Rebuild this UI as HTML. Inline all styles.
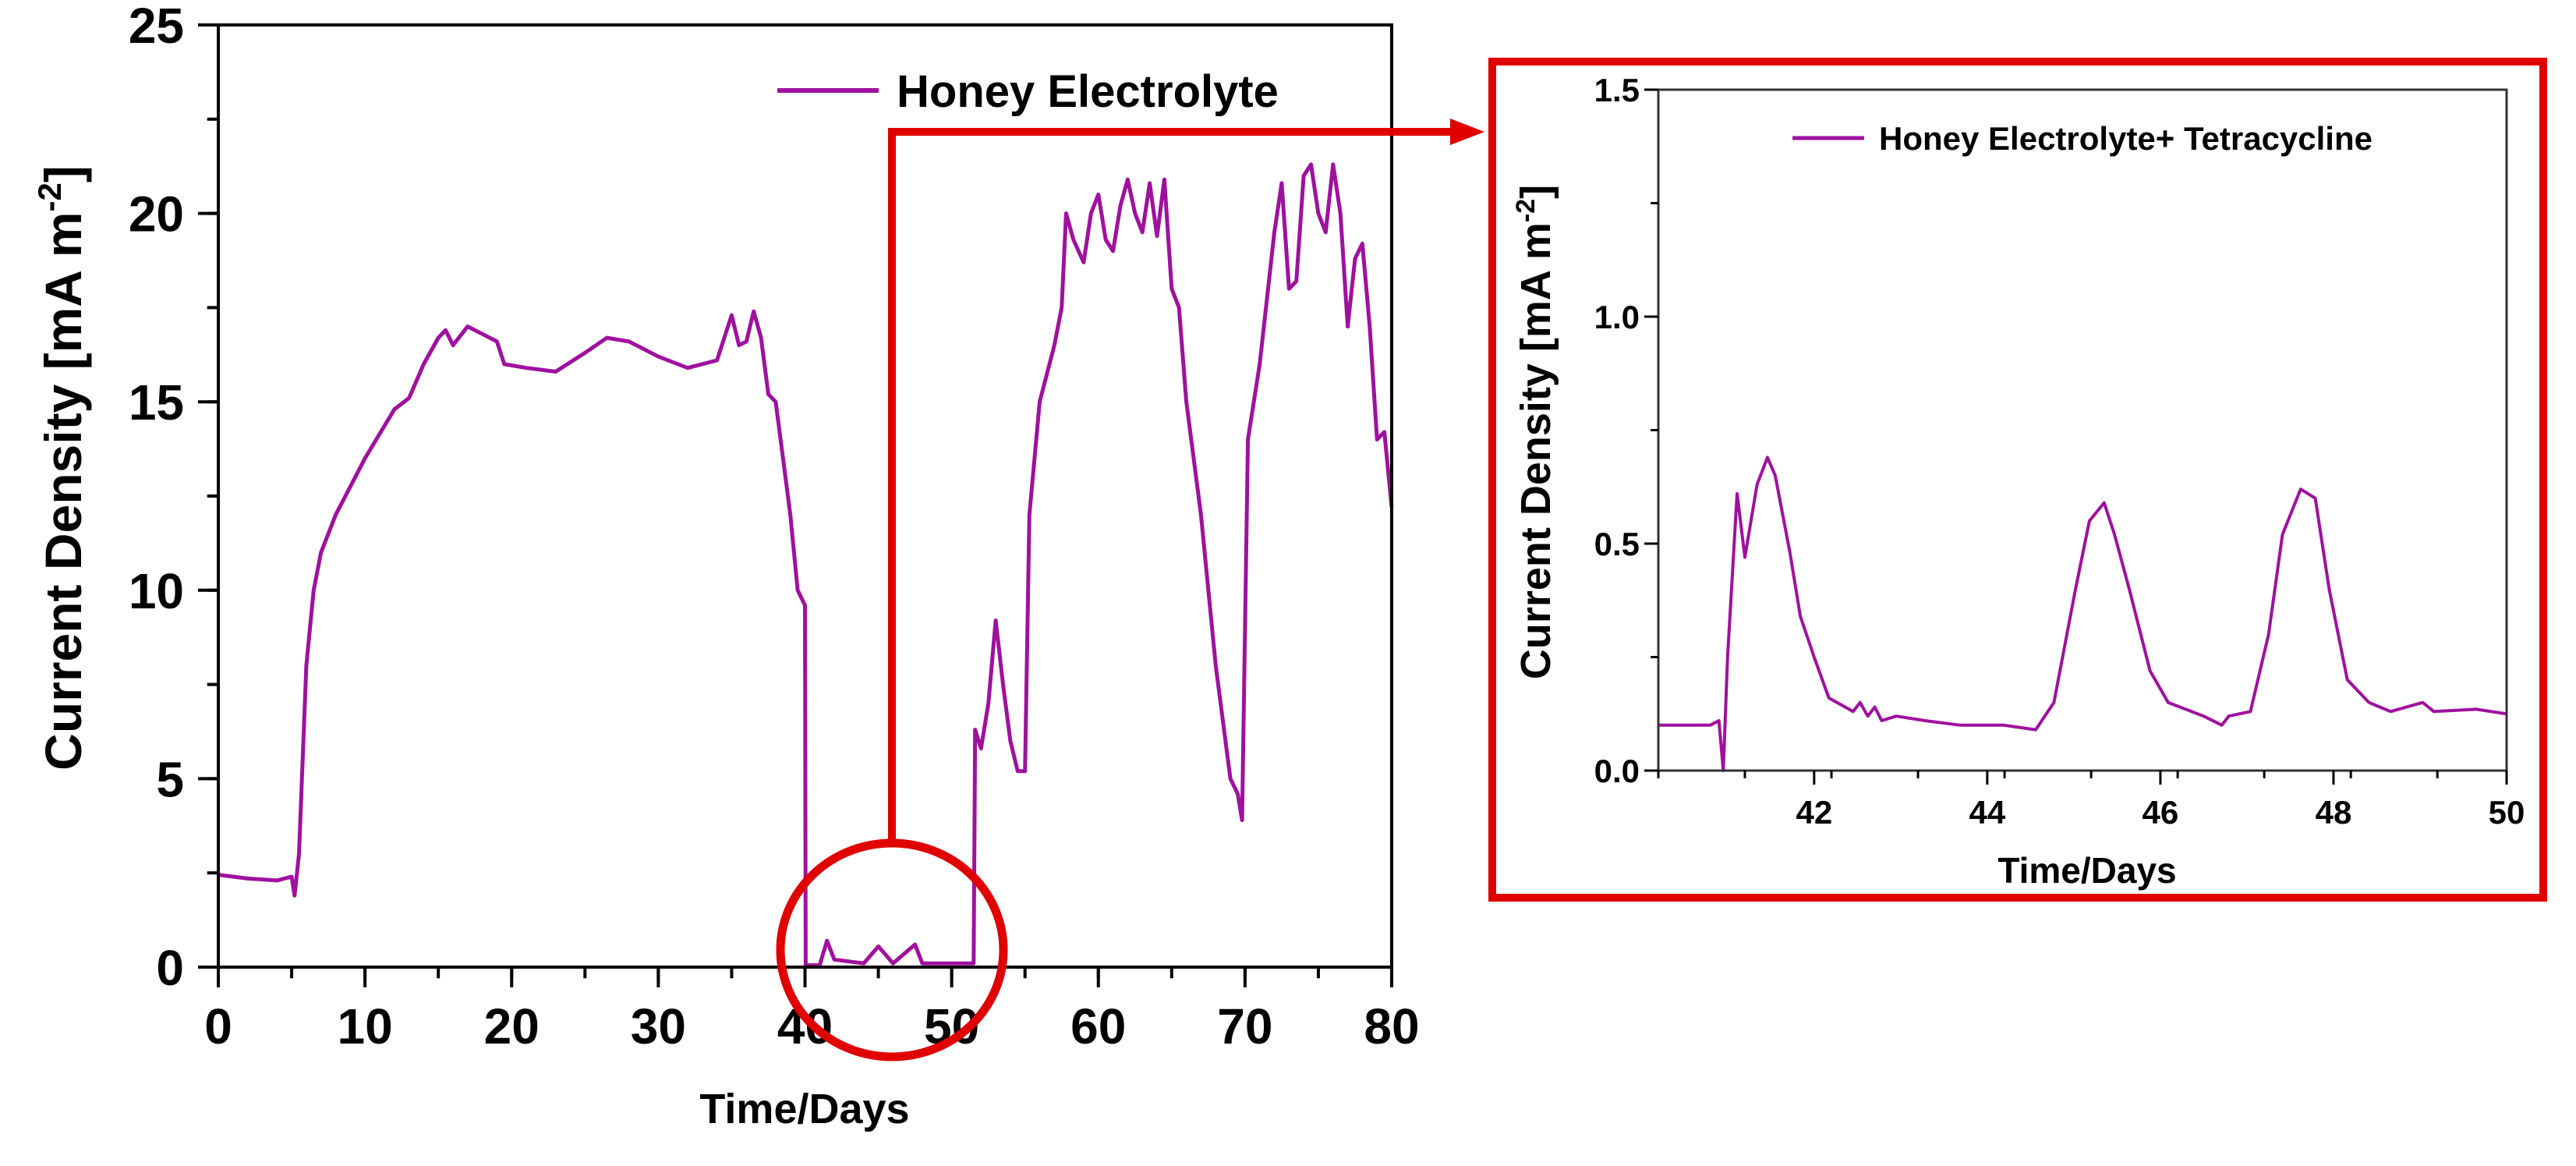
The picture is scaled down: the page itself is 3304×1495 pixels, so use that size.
<!DOCTYPE html>
<html><head><meta charset="utf-8"><style>
html,body{margin:0;padding:0;background:#fff;}
svg text{font-family:"Liberation Sans",Arial,sans-serif;font-weight:bold;fill:#000;}
</style></head><body>
<svg id="svg" width="3304" height="1490" viewBox="0 0 3304 1490" xmlns="http://www.w3.org/2000/svg">
<g id="main"></g>
<g id="inset"></g>
<g id="annot">
  <ellipse cx="1144" cy="1218" rx="143" ry="137" fill="none" stroke="#e00000" stroke-width="11"/>
  <polyline points="1144,1081 1144,169 1870,169" fill="none" stroke="#e00000" stroke-width="10"/>
  <polygon points="1860,152 1904,169 1860,186" fill="#e00000"/>
  <rect x="1914" y="79" width="1348" height="1072" fill="none" stroke="#e00000" stroke-width="10"/>
</g>
</svg>
<script>
// Main chart data
const mainX = [0,2,4,5,5.2,5.5,6,6.5,7,8,10,12,13,14,15,15.5,16,17,18,19,19.5,21,23,25,26.5,28,30,32,34,35,35.5,36,36.5,37,37.5,38,39,39.5,40,40.05,41,41.5,42,44,45,46,47.5,48,51.5,51.6,52,52.5,53,53.5,54,54.5,55,55.3,56,57,57.5,57.8,58.3,59,59.5,60,60.5,61,61.5,62,62.5,63,63.5,64,64.5,65,65.5,66,67,68,69,69.5,69.8,70.2,71,72,72.5,73,73.5,74,74.5,75,75.5,76,76.5,77,77.5,78,78.5,79,79.5,80];
const mainY = [2.45,2.35,2.3,2.4,1.9,3,8,10,11,12,13.5,14.8,15.1,16,16.7,16.9,16.5,17,16.8,16.6,16,15.9,15.8,16.3,16.7,16.6,16.2,15.9,16.1,17.3,16.5,16.6,17.4,16.7,15.2,15,12,10,9.6,0.05,0.05,0.7,0.2,0.1,0.55,0.1,0.6,0.1,0.1,6.3,5.8,7,9.2,7.5,6,5.2,5.2,12,15,16.5,17.5,20,19.3,18.7,20,20.5,19.3,19,20.2,20.9,20,19.5,20.8,19.4,20.9,18,17.5,15,12,8,5,4.6,3.9,14,16,19.5,20.8,18,18.2,21,21.3,20,19.5,21.3,20,17,18.8,19.2,17,14,14.2,12.2];
const mainXTicks = [0,10,20,30,40,50,60,70,80];
const mainYTicks = [0,5,10,15,20,25];
// Inset data
const insetX = [40.2,40.5,40.8,40.9,40.95,41.0,41.11,41.2,41.34,41.46,41.55,41.72,41.84,42,42.17,42.45,42.53,42.62,42.7,42.78,42.95,43.28,43.69,44.19,44.56,44.77,45.02,45.18,45.35,45.47,45.64,45.88,46.09,46.5,46.71,46.79,47.04,47.25,47.41,47.62,47.79,47.95,48.16,48.41,48.66,49.03,49.16,49.65,50];
const insetY = [0.1,0.1,0.1,0.11,0.0,0.25,0.61,0.47,0.63,0.69,0.65,0.48,0.34,0.25,0.16,0.13,0.15,0.12,0.14,0.11,0.12,0.11,0.1,0.1,0.09,0.15,0.4,0.55,0.59,0.52,0.4,0.22,0.15,0.12,0.1,0.12,0.13,0.3,0.52,0.62,0.6,0.4,0.2,0.15,0.13,0.15,0.13,0.135,0.125];
const insetXTicks = [42,44,46,48,50];
const insetYTicks = [0.0,0.5,1.0,1.5];

const NS='http://www.w3.org/2000/svg';
function mk(parent,tag,attrs,text){const e=document.createElementNS(NS,tag);for(const k in attrs)e.setAttribute(k,attrs[k]);if(text!==undefined)e.textContent=text;parent.appendChild(e);return e;}

function drawChart(g,cfg){
  const sx=v=>cfg.L+(v-cfg.x0)/(cfg.x1-cfg.x0)*(cfg.R-cfg.L);
  const sy=v=>cfg.B-(v-cfg.y0)/(cfg.y1-cfg.y0)*(cfg.B-cfg.T);
  const pts=cfg.xs.map((x,i)=>sx(x).toFixed(1)+','+sy(cfg.ys[i]).toFixed(1)).join(' ');
  const line=mk(g,'polyline',{points:pts,fill:'none',stroke:'#a0109f','stroke-width':cfg.lw,'stroke-linejoin':'round'});
  
  
  const fr=mk(g,'rect',{x:cfg.L,y:cfg.T,width:cfg.R-cfg.L,height:cfg.B-cfg.T,fill:'none',stroke:cfg.frameColor,'stroke-width':cfg.aw});
  
  
  for(let i=0;i<cfg.xTicks.length;i++){
    const v=cfg.xTicks[i];
    const t=mk(g,'line',{x1:sx(v),x2:sx(v),y1:cfg.B,y2:cfg.B+cfg.tl,stroke:'#000','stroke-width':cfg.tw});
    
    
    const lb=mk(g,'text',{x:sx(v),y:cfg.B+cfg.xlabOff,'text-anchor':'middle','font-size':cfg.tfs},cfg.xFmt(v));
    
    
  }
  for(let v=cfg.x0;v<=cfg.x1+1e-9;v+=cfg.xMinor){
    const t=mk(g,'line',{x1:sx(v),x2:sx(v),y1:cfg.B,y2:cfg.B+cfg.tl*0.55,stroke:'#000','stroke-width':cfg.tw});
    
    
  }
  for(let i=0;i<cfg.yTicks.length;i++){
    const v=cfg.yTicks[i];
    const t=mk(g,'line',{x1:cfg.L-cfg.tl,x2:cfg.L,y1:sy(v),y2:sy(v),stroke:'#000','stroke-width':cfg.tw});
    
    
    const lb=mk(g,'text',{x:cfg.L-cfg.ylabOff,y:sy(v)+cfg.tfs*0.36,'text-anchor':'end','font-size':cfg.tfs},cfg.yFmt(v));
    
    
  }
  for(let v=cfg.y0;v<=cfg.y1+1e-9;v+=cfg.yMinor){
    const t=mk(g,'line',{x1:cfg.L-cfg.tl*0.55,x2:cfg.L,y1:sy(v),y2:sy(v),stroke:'#000','stroke-width':cfg.tw});
    
    
  }
}

drawChart(document.getElementById('main'),{prefix:'main',L:280,R:1785,T:32,B:1240,x0:0,x1:80,y0:0,y1:25,xs:mainX,ys:mainY,
  xTicks:mainXTicks,yTicks:mainYTicks,xMinor:5,yMinor:2.5,lw:5,aw:4,tw:4,tl:26,tfs:64,xlabOff:98,ylabOff:44,frameColor:'#000',
  xFmt:v=>String(v),yFmt:v=>String(v)});
drawChart(document.getElementById('inset'),{prefix:'inset',L:2127,R:3215,T:115,B:988,x0:40.2,x1:50,y0:0,y1:1.5,xs:insetX,ys:insetY,
  xTicks:insetXTicks,yTicks:insetYTicks,xMinor:1,yMinor:0.25,lw:4,aw:3,tw:3,tl:18,tfs:42,xlabOff:68,ylabOff:24,frameColor:'#333',
  xFmt:v=>String(v),yFmt:v=>v.toFixed(1)});

const main=document.getElementById('main');
let e;
e=mk(main,'text',{x:1032,y:1440,'text-anchor':'middle','font-size':54},'Time/Days');


e=mk(main,'text',{x:0,y:0,'text-anchor':'middle','font-size':66,transform:'translate(104,600) rotate(-90)'});
e.innerHTML='Current Density [mA m<tspan dy="-26" font-size="42">-2</tspan><tspan dy="26">]</tspan>';


e=mk(main,'line',{x1:997,x2:1127,y1:116,y2:116,stroke:'#a0109f','stroke-width':6});


e=mk(main,'text',{x:1150,y:137,'font-size':58},'Honey Electrolyte');



const ins=document.getElementById('inset');
e=mk(ins,'text',{x:2677,y:1132,'text-anchor':'middle','font-size':46},'Time/Days');


e=mk(ins,'text',{x:0,y:0,'text-anchor':'middle','font-size':54,transform:'translate(1988,554) rotate(-90)'});
e.innerHTML='Current Density [mA m<tspan dy="-20" font-size="34">-2</tspan><tspan dy="20">]</tspan>';


e=mk(ins,'line',{x1:2299,x2:2391,y1:177,y2:177,stroke:'#a0109f','stroke-width':5});


e=mk(ins,'text',{x:2410,y:192,'font-size':42},'Honey Electrolyte+ Tetracycline');


</script>
</body></html>
